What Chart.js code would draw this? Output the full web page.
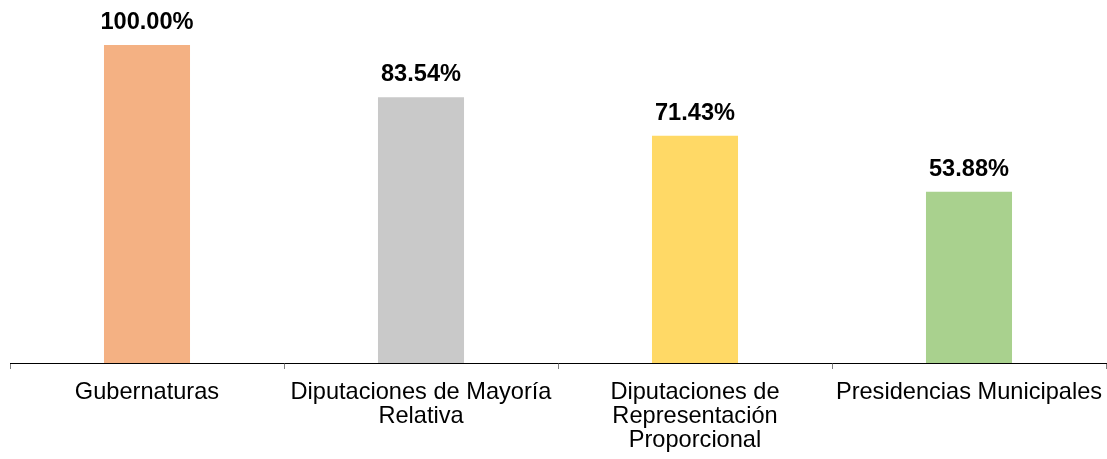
<!DOCTYPE html>
<html lang="es">
<head>
<meta charset="utf-8">
<title>Porcentaje por tipo de elección</title>
<script src="https://cdn.jsdelivr.net/npm/chart.js@4/dist/chart.umd.min.js"></script>
<style>
  html, body { margin: 0; padding: 0; background: #fff; }
  #wrap { width: 1107px; height: 459px; position: relative; }
</style>
</head>
<body>
<div id="wrap"><canvas id="barChart"></canvas></div>
<script>
// categorías (con saltos de línea como en las etiquetas del eje)
const categorias = [
  "Gubernaturas",
  ["Diputaciones de Mayoría", "Relativa"],
  ["Diputaciones de", "Representación", "Proporcional"],
  "Presidencias Municipales"
];
const porcentajes = [100.00, 83.54, 71.43, 53.88];
const colores = ["#F4B183", "#C9C9C9", "#FFD966", "#A9D18E"];

const FUENTE = "'Liberation Sans', Arial, sans-serif";
const TAM = 23.6;

// escribe el porcentaje encima de cada barra
const etiquetasValor = {
  id: "etiquetasValor",
  afterDatasetsDraw(chart) {
    const ctx = chart.ctx;
    const meta = chart.getDatasetMeta(0);
    ctx.save();
    ctx.font = "bold " + TAM + "px " + FUENTE;
    ctx.fillStyle = "#000";
    ctx.textAlign = "center";
    ctx.textBaseline = "alphabetic";
    meta.data.forEach((bar, i) => {
      ctx.fillText(porcentajes[i].toFixed(2) + "%", bar.x, bar.y - 16);
    });
    ctx.restore();
  }
};

const ctx = document.getElementById("barChart").getContext("2d");
new Chart(ctx, {
  type: "bar",
  data: {
    labels: categorias,
    datasets: [{
      data: porcentajes,
      backgroundColor: colores,
      borderWidth: 0,
      categoryPercentage: 1,
      barPercentage: 0.314
    }]
  },
  options: {
    responsive: true,
    maintainAspectRatio: false,
    animation: false,
    layout: { padding: { top: 45, left: 10, right: 1, bottom: 0 } },
    plugins: {
      legend: { display: false },
      tooltip: { enabled: false }
    },
    scales: {
      x: {
        // alto fijo para la franja de etiquetas, sin margen lateral extra
        afterFit(scale) {
          scale.height = 96;
          scale.paddingLeft = 0;
          scale.paddingRight = 0;
        },
        grid: {
          offset: true,
          drawOnChartArea: false,
          drawTicks: true,
          tickLength: 6,
          color: "#7f7f7f"
        },
        border: { display: true, color: "#000", width: 1 },
        ticks: {
          autoSkip: false,
          maxRotation: 0,
          minRotation: 0,
          padding: 11,
          color: "#000",
          font: { family: FUENTE, size: TAM, lineHeight: 1.02 }
        }
      },
      y: {
        display: false,
        min: 0,
        max: 100
      }
    }
  },
  plugins: [etiquetasValor]
});
</script>
</body>
</html>
